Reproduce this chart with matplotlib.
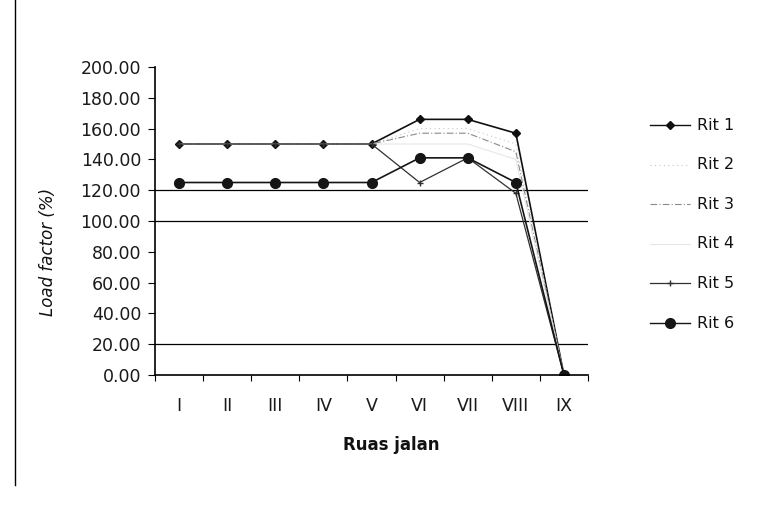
import numpy as np
import matplotlib
matplotlib.use("Agg")
import matplotlib.pyplot as plt
from matplotlib.lines import Line2D

plt.rcParams['font.family'] = ['DejaVu Sans']

ruas = ["I", "II", "III", "IV", "V", "VI", "VII", "VIII", "IX"]
rit_labels = ["Rit 1", "Rit 2", "Rit 3", "Rit 4", "Rit 5", "Rit 6"]

rit1 = [150, 150, 150, 150, 150, 166, 166, 157, 0]
rit2 = [150, 150, 150, 150, 150, 160, 160, 150, 0]
rit3 = [150, 150, 150, 150, 150, 157, 157, 145, 0]
rit4 = [150, 150, 150, 150, 150, 150, 150, 140, 0]
rit5 = [150, 150, 150, 150, 150, 125, 141, 118, 0]
rit6 = [125, 125, 125, 125, 125, 141, 141, 125, 0]

gridlines = [20, 100, 120]

W, H = 774, 521
fig = plt.figure(figsize=(W / 100, H / 100), dpi=100)
ax = fig.add_axes([155 / W, 1 - 375 / H, 433 / W, 308 / H])

x = np.arange(1, len(ruas) + 1)

for g in gridlines:
    ax.axhline(g, color="black", lw=0.9, zorder=1)

styles = [
    dict(color="#101010", lw=1.2, marker="D", ms=4.5),
    dict(color="#c8c8c8", lw=0.8, ls=(0, (1, 3))),
    dict(color="#8a8a8a", lw=0.8, ls=(0, (6, 2, 1, 2))),
    dict(color="#e6e6e6", lw=0.8),
    dict(color="#303030", lw=0.9, marker="+", ms=4),
    dict(color="#151515", lw=1.2, marker="o", ms=7),
]
series = [rit1, rit2, rit3, rit4, rit5, rit6]
order = [1, 3, 2, 4, 0, 5]
for i in order:
    ax.plot(x, series[i], zorder=2 + i / 10, **styles[i])

ax.set_xlim(0.5, len(ruas) + 0.5)
ax.set_ylim(0, 200)
yt = np.arange(0, 201, 20)
ax.set_yticks(yt)
ax.set_yticklabels([f"{v:.2f}" for v in yt])
ax.set_xticks(x)
ax.set_xticklabels(ruas)
ax.set_xticks(np.arange(0.5, len(ruas) + 1, 1), minor=True)
ax.tick_params(axis="x", which="major", length=0, pad=16, labelsize=12.5, labelcolor="#1a1a1a")
ax.tick_params(axis="x", which="minor", length=4, direction="out", width=0.8)
ax.tick_params(axis="y", length=5, direction="out", width=0.8, pad=5, labelsize=12.5,
               labelcolor="#1a1a1a")

for side in ["top", "right"]:
    ax.spines[side].set_visible(False)
ax.spines["left"].set_linewidth(1.2)
ax.spines["bottom"].set_linewidth(1.2)

fig.text(391 / W, 1 - 445 / H, "Ruas jalan", fontsize=12, fontweight="bold",
         ha="center", va="center", color="#111111")
fig.text(48 / W, 1 - 252 / H, "Load factor (%)", fontsize=12, style="italic",
         rotation=90, ha="center", va="center", color="#111111")

# legend, drawn entry by entry
for i, lab in enumerate(rit_labels):
    yy = 1 - (125 + 39.6 * i) / H
    st = dict(styles[i])
    st["lw"] = min(st["lw"], 1.0)
    fig.add_artist(Line2D([650 / W, 690 / W], [yy, yy], transform=fig.transFigure,
                          color=st["color"], lw=st["lw"], ls=st.get("ls", "-")))
    if "marker" in st:
        fig.add_artist(Line2D([670 / W], [yy], transform=fig.transFigure, ls="none",
                              color=st["color"], marker=st["marker"], ms=st["ms"]))
    fig.text(697 / W, yy, lab, fontsize=11.5, va="center", ha="left", color="#111111")

# left page border
fig.add_artist(Line2D([15 / W, 15 / W], [1.0, 1 - 485 / H], color="black", lw=1.0,
                      transform=fig.transFigure))

fig.savefig("out.png", dpi=100)
